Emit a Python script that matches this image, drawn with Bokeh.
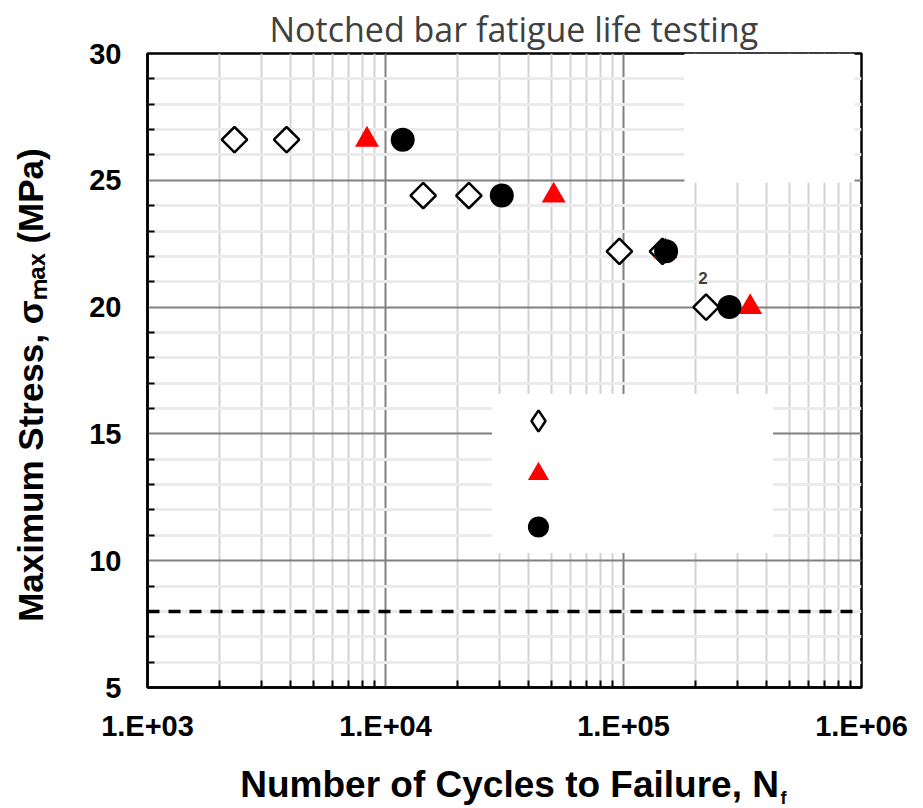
from math import pi
from bokeh.plotting import figure
from bokeh.models import (FixedTicker, Span, BoxAnnotation, Legend, LegendItem,
                          Range1d, Title)
from bokeh.embed import file_html
from bokeh.resources import INLINE
from bokeh.core.properties import value

# ---------------- data ----------------
series_a_cycles = [2320, 3840, 14400, 22400, 96100, 145800, 222300]
series_a_stress = [26.6, 26.6, 24.4, 24.4, 22.2, 22.2, 20.0]
series_b_cycles = [8360, 50900, 150000, 340600]
series_b_stress = [26.6, 24.4, 22.2, 20.0]
series_c_cycles = [11810, 30800, 151000, 278700]
series_c_stress = [26.6, 24.4, 22.2, 20.0]
note_cycles = [216000]
note_stress = [21.15]
note_text = ["2"]
limit_stress = 8.0

x_major_ticks = [1000, 10000, 100000, 1000000]
x_tick_labels = ["1.E+03", "1.E+04", "1.E+05", "1.E+06"]
x_minor_ticks = [2000, 3000, 4000, 5000, 6000, 7000, 8000, 9000,
                 20000, 30000, 40000, 50000, 60000, 70000, 80000, 90000,
                 200000, 300000, 400000, 500000, 600000, 700000, 800000, 900000]
y_major_ticks = [5, 10, 15, 20, 25, 30]
y_minor_ticks = [6, 7, 8, 9, 11, 12, 13, 14, 16, 17, 18, 19, 21, 22, 23, 24, 26, 27, 28, 29]

TITLE = "Notched bar fatigue life testing"
X_LABEL = "\u00a0Number of Cycles to Failure, N"
X_LABEL_SUB = "f"
Y_LABEL = "Maximum Stress, \u03c3\u2098\u2090\u2093 (MPa)\u00a0\u00a0\u00a0"

# ---------------- figure ----------------
p = figure(width=923, height=808, x_axis_type="log",
           x_range=Range1d(1000, 1000000), y_range=Range1d(5, 30),
           output_backend="svg", toolbar_location=None,
           min_border_left=147, min_border_right=62,
           min_border_top=53, min_border_bottom=121,
           title=TITLE)

p.title.text_font = "Open Sans"
p.title.text_font_size = "34px"
p.title.text_font_style = "normal"
p.title.text_color = "#404040"
p.title.align = "left"
p.title.offset = 122
p.title.standoff = 3

p.outline_line_color = "black"
p.outline_line_width = 2.5
p.background_fill_color = "white"
p.border_fill_color = "white"

p.xaxis.ticker = FixedTicker(ticks=x_major_ticks, minor_ticks=x_minor_ticks)
p.xaxis.major_label_overrides = dict(zip(x_major_ticks, x_tick_labels))
p.yaxis.ticker = FixedTicker(ticks=y_major_ticks, minor_ticks=y_minor_ticks)

for ax in (p.xaxis, p.yaxis):
    ax.axis_line_color = "black"
    ax.axis_line_width = 2.5
    ax.major_tick_in = 0
    ax.major_tick_out = 0
    ax.minor_tick_in = 7
    ax.minor_tick_out = 0
    ax.minor_tick_line_color = "black"
    ax.minor_tick_line_width = 2
    ax.major_label_text_font = "Liberation Sans"
    ax.major_label_text_font_style = "bold"
    ax.major_label_text_font_size = "29px"
    ax.major_label_text_color = "black"
    ax.axis_label_text_font = "Liberation Sans"
    ax.axis_label_text_font_style = "bold"
    ax.axis_label_text_color = "black"

p.xaxis.axis_label_text_font_size = "37px"
p.yaxis.axis_label_text_font_size = "35px"
p.xaxis.major_label_standoff = 22
p.yaxis.major_label_standoff = 26
p.xaxis.axis_label = X_LABEL
p.yaxis.axis_label = Y_LABEL
p.xaxis.axis_label_standoff = 19
p.yaxis.axis_label_standoff = 36

p.xgrid.grid_line_color = "#808080"
p.xgrid.grid_line_width = 2
p.xgrid.minor_grid_line_color = "#d2d2d2"
p.xgrid.minor_grid_line_width = 2
p.ygrid.grid_line_color = "#808080"
p.ygrid.grid_line_width = 2
p.ygrid.minor_grid_line_color = "#ebebeb"
p.ygrid.minor_grid_line_width = 3

# white box (empty text area in the original)
p.add_layout(BoxAnnotation(left=1.803e5, right=9.35e5, bottom=24.91, top=30,
                           fill_color="white", fill_alpha=1, line_color=None))

# dashed limit line
p.add_layout(Span(location=limit_stress, dimension="width", line_color="black",
                  line_width=3.5, line_dash="12 9"))

r_a = p.scatter(series_a_cycles, series_a_stress, marker="square", angle=pi / 4,
                size=18, fill_color="white", line_color="black", line_width=2.5)
r_b = p.scatter(series_b_cycles, series_b_stress, marker="triangle", size=24,
                fill_color="#ff0000", line_color=None)
r_c = p.scatter(series_c_cycles, series_c_stress, marker="circle", size=24,
                fill_color="black", line_color=None)
# legend swatch for series A (legend markers are drawn unrotated)
r_a_key = p.scatter(series_a_cycles, series_a_stress, marker="diamond", size=17,
                    fill_color="white", line_color="black", line_width=2.5,
                    visible=False)

p.text(note_cycles, note_stress, text=note_text, text_font=value("Liberation Sans"),
       text_font_style="bold", text_font_size="17px", text_color="#404040",
       text_align="center", text_baseline="middle")

legend = Legend(items=[LegendItem(label=" ", renderers=[r_a_key]),
                       LegendItem(label=" ", renderers=[r_b]),
                       LegendItem(label=" ", renderers=[r_c])],
                location=(345, 134), orientation="vertical", padding=0, spacing=0,
                margin=0, glyph_width=92, glyph_height=53, label_width=189,
                label_height=53, label_standoff=0, click_policy="none",
                background_fill_color="white", background_fill_alpha=1,
                border_line_color=None)
p.add_layout(legend)

# subscript "f" of the x-axis label, in the bottom side panel so it is not clipped
p.add_layout(Title(text=X_LABEL_SUB, align="left", offset=633, standoff=-40,
                   vertical_align="top", text_font="Liberation Sans",
                   text_font_style="bold", text_font_size="18px",
                   text_color="black"), "below")

open("out.html", "w").write(file_html(p, INLINE))
